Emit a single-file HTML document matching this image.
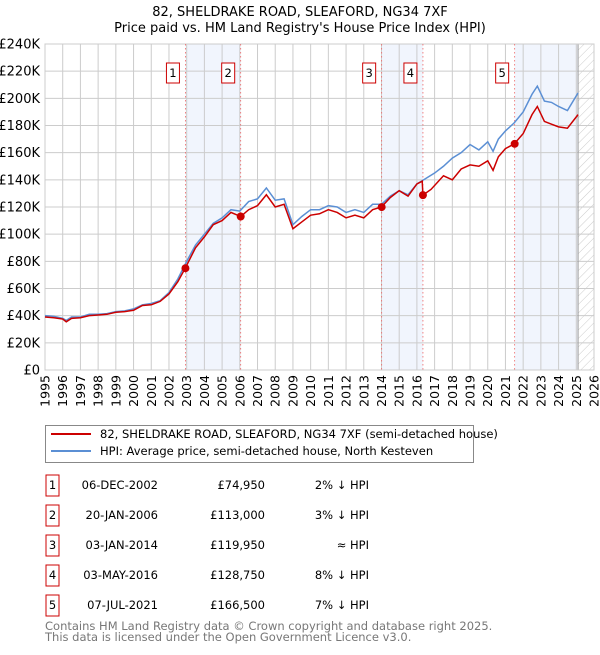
<!DOCTYPE html>
<html><head><meta charset="utf-8"><style>
body{margin:0;background:#fff;font-family:"Liberation Sans","DejaVu Sans",sans-serif;}
svg text{font-family:"DejaVu Sans","Liberation Sans",sans-serif;}
</style></head><body>
<svg id="c" width="600" height="650" xmlns="http://www.w3.org/2000/svg">
<defs><pattern id="hatch" width="6" height="6" patternUnits="userSpaceOnUse" patternTransform="rotate(45)"><line x1="0" y1="0" x2="0" y2="6" stroke="#ccc" stroke-width="1"/></pattern></defs>
<text x="300" y="16" text-anchor="middle" font-size="13">82, SHELDRAKE ROAD, SLEAFORD, NG34 7XF</text>
<text x="300" y="32" text-anchor="middle" font-size="13">Price paid vs. HM Land Registry's House Price Index (HPI)</text>
<g id="plot"></g>
<g>
<rect x="45.5" y="425.5" width="428" height="37" fill="#fff" stroke="#888"/>
<line x1="51" y1="434" x2="91" y2="434" stroke="#cc0000" stroke-width="2"/>
<text x="100" y="438" font-size="11.5">82, SHELDRAKE ROAD, SLEAFORD, NG34 7XF (semi-detached house)</text>
<line x1="51" y1="451" x2="91" y2="451" stroke="#5b8fd4" stroke-width="2"/>
<text x="100" y="455" font-size="11.5">HPI: Average price, semi-detached house, North Kesteven</text>
</g>
<g id="tbl" font-size="11.5"></g>
<text x="45" y="630" font-size="11.5" fill="#777">Contains HM Land Registry data © Crown copyright and database right 2025.</text>
<text x="45" y="641" font-size="11.5" fill="#777">This data is licensed under the Open Government Licence v3.0.</text>
</svg>
<script>
const hpiYears=[1995,1995.5,1996,1996.2,1996.5,1997,1997.5,1998,1998.5,1999,1999.5,2000,2000.5,2001,2001.5,2002,2002.5,2003,2003.5,2004,2004.5,2005,2005.5,2006,2006.5,2007,2007.5,2008,2008.5,2009,2009.5,2010,2010.5,2011,2011.5,2012,2012.5,2013,2013.5,2014,2014.5,2015,2015.5,2016,2016.5,2017,2017.5,2018,2018.5,2019,2019.5,2020,2020.3,2020.6,2021,2021.5,2022,2022.5,2022.8,2023.2,2023.6,2024,2024.5,2025.1];
const hpiValues=[40,39.5,38,36.5,39,39,41,41,41.5,43,43.5,45,48,49,51,57,67,80,92,100,108,112,118,117,124,126,134,125,126,107,113,118,118,121,120,116,118,116,122,122,128,132,129,137,141,145,150,156,160,166,162,168,161,170,176,182,190,203,209,198,197,194,191,204];
const priceYears=[1995,1995.5,1996,1996.2,1996.5,1997,1997.5,1998,1998.5,1999,1999.5,2000,2000.5,2001,2001.5,2002,2002.5,2002.92,2003.5,2004,2004.5,2005,2005.5,2006.05,2006.5,2007,2007.5,2008,2008.5,2009,2009.5,2010,2010.5,2011,2011.5,2012,2012.5,2013,2013.5,2014,2014.5,2015,2015.5,2016,2016.3,2016.34,2016.8,2017.5,2018,2018.5,2019,2019.5,2020,2020.3,2020.6,2021,2021.5,2022,2022.5,2022.8,2023.2,2023.6,2024,2024.5,2025.1];
const priceValues=[39,38.5,37.5,35.5,38,38.5,40,40.5,41,42.5,43,44,47.5,48,50.5,56,65,75,90,98,107,110,116,113,118,121,129,120,122,104,109,114,115,118,116,112,114,112,118,120,127,132,128,137,139,128.75,133,143,140,148,151,150,154,147,157,163,166.5,174,188,194,183,181,179,178,188];
const saleLabels=["1","2","3","4","5"];
const saleYears=[2002.93,2006.05,2014.01,2016.34,2021.52];
const saleValues=[74.95,113,119.95,128.75,166.5];
const saleDates=["06-DEC-2002","20-JAN-2006","03-JAN-2014","03-MAY-2016","07-JUL-2021"];
const salePrices=["£74,950","£113,000","£119,950","£128,750","£166,500"];
const saleRel=["2% ↓ HPI","3% ↓ HPI","≈ HPI","8% ↓ HPI","7% ↓ HPI"];
const yTicks=[0,20,40,60,80,100,120,140,160,180,200,220,240];
const xTicks=[];for(let y=1995;y<=2026;y++)xTicks.push(y);
const X0=45,X1=594,Y0=370,Y1=44,dataEnd=2025.1;
const xs=y=>X0+(y-1995)/31*(X1-X0);
const ys=v=>Y0-v/240*(Y0-Y1);
const NS="http://www.w3.org/2000/svg";
const plot=document.getElementById('plot');
function mk(tag,attrs,parent){const e=document.createElementNS(NS,tag);for(const k in attrs)e.setAttribute(k,attrs[k]);(parent||plot).appendChild(e);return e;}
[[0,1],[2,3],[4,null]].forEach(([a,b],i)=>{
 const r=mk('rect',{x:xs(saleYears[a]),y:Y1,width:(b===null?xs(dataEnd):xs(saleYears[b]))-xs(saleYears[a]),height:Y0-Y1,fill:'#eef3fc',opacity:0.8});
 
 
});
const hr=mk('rect',{x:xs(dataEnd),y:Y1,width:X1-xs(dataEnd),height:Y0-Y1,fill:'url(#hatch)'});


yTicks.forEach(v=>{
 const l=mk('line',{x1:X0,x2:X1,y1:ys(v),y2:ys(v),stroke:'#ccc'});
 
 
 const t=mk('text',{x:X0-5,y:ys(v)+4.5,'text-anchor':'end','font-size':13});
 
 
 t.textContent=v===0?'£0':'£'+v+'K';
});
xTicks.forEach(y=>{
 const l=mk('line',{x1:xs(y),x2:xs(y),y1:Y1,y2:Y0,stroke:'#ccc'});
 
 
 const t=mk('text',{x:0,y:0,'text-anchor':'end','font-size':12.5,transform:`translate(${xs(y)+4.5},375) rotate(-90)`});
 
 
 t.textContent=y;
});
const ax=mk('line',{x1:xs(dataEnd),x2:xs(dataEnd),y1:Y1,y2:Y0,stroke:'#999'});


const fr=mk('rect',{x:X0,y:Y1,width:X1-X0,height:Y0-Y1,fill:'none',stroke:'#ccc'});


saleYears.forEach((y,i)=>{
 const l=mk('line',{x1:xs(y),x2:xs(y),y1:Y1,y2:Y0,stroke:'#ee6666','stroke-width':0.8,'stroke-dasharray':'1.5,2.5'});
 
 
 const b=mk('rect',{x:xs(y)-19,y:63,width:13,height:20,fill:'#fff',stroke:'#cc0000'});
 
 
 const t=mk('text',{x:xs(y)-12.5,y:77,'text-anchor':'middle','font-size':11.5});
 
 
 t.textContent=saleLabels[i];
});
const hp=mk('polyline',{points:hpiYears.map((y,i)=>xs(y)+','+ys(hpiValues[i])).join(' '),fill:'none',stroke:'#5b8fd4','stroke-width':1.5});


const pp=mk('polyline',{points:priceYears.map((y,i)=>xs(y)+','+ys(priceValues[i])).join(' '),fill:'none',stroke:'#cc0000','stroke-width':1.5});


saleYears.forEach((y,i)=>{
 const c=mk('circle',{cx:xs(y),cy:ys(saleValues[i]),r:4,fill:'#cc0000'});
 
 
});
const tbl=document.getElementById('tbl');
saleLabels.forEach((s,i)=>{
 const y=483+i*30;
 const b=mk('rect',{x:46,y:y-8,width:13,height:21,fill:'#fff',stroke:'#cc0000'},tbl);
 
 
 const t0=mk('text',{x:52.5,y:y+6,'text-anchor':'middle'},tbl);
 
 
 t0.textContent=s;
 const t1=mk('text',{x:158,y:y+6,'text-anchor':'end'},tbl);
 
 
 t1.textContent=saleDates[i];
 const t2=mk('text',{x:265,y:y+6,'text-anchor':'end'},tbl);
 
 
 t2.textContent=salePrices[i];
 const t3=mk('text',{x:369,y:y+6,'text-anchor':'end'},tbl);
 
 
 t3.textContent=saleRel[i];
});
</script>
</body></html>
